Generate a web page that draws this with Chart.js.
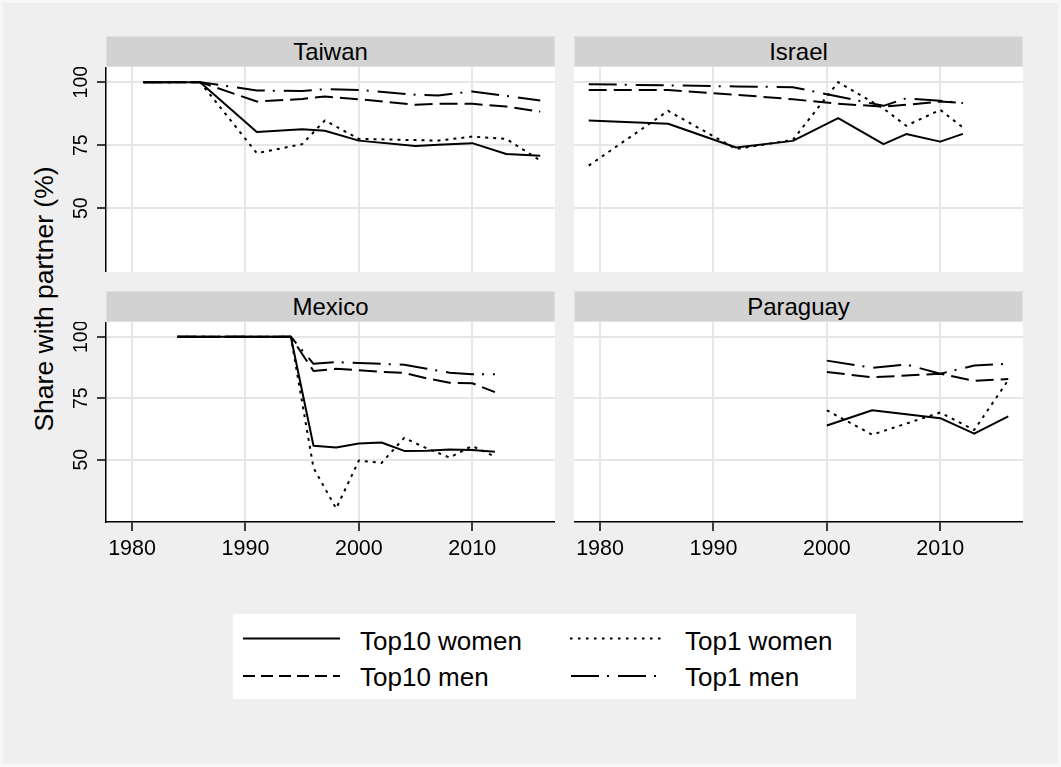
<!DOCTYPE html>
<html><head><meta charset="utf-8">
<script src="https://cdn.jsdelivr.net/npm/chart.js@4"></script>
<style>
html,body{margin:0;padding:0;}
body{width:1061px;height:767px;background:#efefef;position:relative;overflow:hidden;font-family:"Liberation Sans",Arial,Helvetica,sans-serif;color:#000;}
#frame{position:absolute;left:0;top:0;width:1055px;height:761px;border:3px solid #f7f7f7;}
.strip{position:absolute;background:#d2d2d2;border:1px solid #dbe2e5;box-sizing:border-box;text-align:center;font-size:24px;line-height:29px;}
.wrap{position:absolute;}
#ytitle{position:absolute;width:400px;height:32px;line-height:32px;left:-156px;top:283px;text-align:center;font-size:26.5px;transform:rotate(-90deg);}
#legend{position:absolute;left:233px;top:614px;width:623px;height:85px;background:#fff;}
#legend .t{position:absolute;height:30px;line-height:30px;font-size:26px;white-space:nowrap;}
</style>
</head><body>
<div id="frame"></div>
<div class="strip" style="left:106px;top:36px;width:449px;height:31px;">Taiwan</div>
<div class="strip" style="left:574px;top:36px;width:449px;height:31px;">Israel</div>
<div class="strip" style="left:106px;top:291px;width:449px;height:31px;">Mexico</div>
<div class="strip" style="left:574px;top:291px;width:449px;height:31px;">Paraguay</div>
<div id="ytitle">Share with partner (%)</div>
<div class="wrap" style="left:50px;top:67px;"><canvas id="c1" width="505" height="205"></canvas></div>
<div class="wrap" style="left:574px;top:67px;"><canvas id="c2" width="449" height="205"></canvas></div>
<div class="wrap" style="left:50px;top:322px;"><canvas id="c3" width="505" height="250"></canvas></div>
<div class="wrap" style="left:574px;top:322px;"><canvas id="c4" width="449" height="250"></canvas></div>
<div id="legend">
<svg width="623" height="85" style="position:absolute;left:0;top:0;">
<line x1="10" y1="24.5" x2="107" y2="24.5" stroke="#000" stroke-width="2"/>
<line x1="10" y1="62" x2="107" y2="62" stroke="#000" stroke-width="2" stroke-dasharray="12 6"/>
<line x1="337" y1="24.5" x2="432" y2="24.5" stroke="#000" stroke-width="2" stroke-dasharray="2.5 5.5"/>
<line x1="338" y1="62" x2="432" y2="62" stroke="#000" stroke-width="2" stroke-dasharray="28 8 2 9"/>
</svg>
<div class="t" style="left:127px;top:12px;">Top10 women</div>
<div class="t" style="left:127px;top:48px;">Top10 men</div>
<div class="t" style="left:452px;top:12px;">Top1 women</div>
<div class="t" style="left:452px;top:48px;">Top1 men</div>
</div>
<script>
// ---- data ----
const seriesNames = ["Top10 women", "Top1 women", "Top10 men", "Top1 men"];
const xTicks = [1980, 1990, 2000, 2010];
const yTicks = [50, 75, 100];

const taiwanYears = [1981, 1986, 1991, 1995, 1997, 2000, 2005, 2007, 2010, 2013, 2016];
const taiwanTop10Women = [100, 100, 80.2, 81.3, 80.7, 76.8, 74.7, 75.2, 75.8, 71.5, 70.8];
const taiwanTop1Women  = [100, 100, 71.8, 75.4, 84.8, 77.5, 77.0, 76.8, 78.4, 77.5, 68.9];
const taiwanTop10Men   = [100, 100, 92.3, 93.3, 94.3, 93.2, 91.0, 91.4, 91.4, 90.3, 88.3];
const taiwanTop1Men    = [100, 100, 96.7, 96.5, 97.2, 96.9, 95.0, 94.7, 96.3, 94.5, 92.7];

const israelYears = [1979, 1986, 1992, 1997, 2001, 2005, 2007, 2010, 2012];
const israelTop10Women = [84.8, 83.5, 74.1, 76.7, 85.7, 75.4, 79.4, 76.4, 79.5];
const israelTop1Women  = [66.9, 88.6, 73.5, 77.1, 100, 89.5, 82.7, 89.0, 82.0];
const israelTop10Men   = [96.9, 96.9, 95.0, 93.2, 91.4, 90.3, 91.0, 92.3, 91.7];
const israelTop1Men    = [99.2, 98.7, 98.3, 98.0, 94.3, 90.6, 93.6, 92.6, 91.7];

const mexicoYears = [1984, 1989, 1992, 1994, 1996, 1998, 2000, 2002, 2004, 2006, 2008, 2010, 2012];
const mexicoTop10Women = [100, 100, 100, 100, 55.7, 55.0, 56.6, 57.0, 53.6, 53.7, 54.2, 54.0, 53.3];
const mexicoTop1Women  = [100, 100, 100, 100, 46.7, 30.2, 49.7, 48.7, 58.9, 54.6, 50.9, 55.6, 51.3];
const mexicoTop10Men   = [100, 100, 100, 100, 86.1, 87.0, 86.4, 85.7, 85.3, 83.1, 81.3, 81.1, 77.5];
const mexicoTop1Men    = [100, 100, 100, 100, 89.0, 89.7, 89.3, 89.0, 88.6, 87.0, 85.4, 84.8, 84.8];

const paraguayYears = [2000, 2004, 2007, 2010, 2013, 2016];
const paraguayTop10Women = [63.9, 70.1, null, 66.9, 60.6, 67.6];
const paraguayTop1Women  = [70.1, 60.2, null, 69.2, 62.1, 82.4];
const paraguayTop10Men   = [85.7, 83.5, null, 85.0, 82.1, 82.8];
const paraguayTop1Men    = [90.3, 87.4, 88.7, 85.0, 88.3, 89.0];

// ---- styling ----
const X_MIN = 1977.7, X_MAX = 2017.3, Y_MIN = 24.7, Y_MAX = 106;
const FONT = '"Liberation Sans", Arial, Helvetica, sans-serif';
const dashes = [[], [3, 5], [18, 7], [28, 8, 2, 9]];
Chart.defaults.font.family = FONT;
Chart.defaults.color = '#000';

const whiteArea = {
  id: 'whiteArea',
  beforeDraw(chart) {
    const a = chart.chartArea, ctx = chart.ctx;
    ctx.save(); ctx.fillStyle = '#fff';
    ctx.fillRect(a.left, a.top, a.right - a.left, a.bottom - a.top);
    ctx.restore();
  }
};
const yLabels = {
  id: 'yLabels',
  afterDraw(chart, args, o) {
    if (!o.show) return;
    const ctx = chart.ctx, s = chart.scales.y;
    ctx.save();
    ctx.fillStyle = '#000';
    ctx.font = '19.5px ' + FONT;
    ctx.textAlign = 'center';
    ctx.textBaseline = 'alphabetic';
    yTicks.forEach(v => {
      ctx.save();
      ctx.translate(36.7, s.getPixelForValue(v));
      ctx.rotate(-Math.PI / 2);
      ctx.fillText(String(v), 0, 0);
      ctx.restore();
    });
    ctx.restore();
  }
};

function panel(id, years, vals, showY, showX) {
  const datasets = vals.map((arr, i) => ({
    label: seriesNames[i],
    data: years.map((yr, k) => ({ x: yr, y: arr[k] })),
    borderColor: '#000', borderWidth: 2, borderDash: dashes[i],
    pointRadius: 0, fill: false, tension: 0, spanGaps: true,
    borderJoinStyle: 'round'
  }));
  new Chart(document.getElementById(id), {
    type: 'line',
    data: { datasets },
    plugins: [whiteArea, yLabels],
    options: {
      responsive: false, animation: false, devicePixelRatio: 1,
      layout: { padding: 0 },
      plugins: { legend: { display: false }, tooltip: { enabled: false }, yLabels: { show: showY } },
      scales: {
        x: {
          type: 'linear', min: X_MIN, max: X_MAX,
          afterBuildTicks: s => { s.ticks = xTicks.map(v => ({ value: v })); },
          grid: { color: '#e6e6e6', lineWidth: 2, drawTicks: showX, tickLength: 9, tickColor: '#000', tickWidth: 1.5 },
          border: { display: showX, color: '#000', width: 1.5 },
          ticks: { display: showX, font: { size: 21.5 }, color: '#000', padding: 5, maxRotation: 0, autoSkip: false,
                   callback: v => String(v) },
          afterFit: s => { s.height = showX ? 50 : 0; s.paddingLeft = 0; s.paddingRight = 0; }
        },
        y: {
          type: 'linear', min: Y_MIN, max: Y_MAX,
          afterBuildTicks: s => { s.ticks = yTicks.map(v => ({ value: v })); },
          grid: { color: '#e6e6e6', lineWidth: 2, drawTicks: showY, tickLength: 9, tickColor: '#000', tickWidth: 1.5 },
          border: { display: showY, color: '#000', width: 1.5 },
          ticks: { display: false },
          afterFit: s => { s.width = showY ? 56 : 0; s.paddingTop = 0; s.paddingBottom = 0; }
        }
      }
    }
  });
}

panel('c1', taiwanYears, [taiwanTop10Women, taiwanTop1Women, taiwanTop10Men, taiwanTop1Men], true, false);
panel('c2', israelYears, [israelTop10Women, israelTop1Women, israelTop10Men, israelTop1Men], false, false);
panel('c3', mexicoYears, [mexicoTop10Women, mexicoTop1Women, mexicoTop10Men, mexicoTop1Men], true, true);
panel('c4', paraguayYears, [paraguayTop10Women, paraguayTop1Women, paraguayTop10Men, paraguayTop1Men], false, true);
</script>
</body></html>
